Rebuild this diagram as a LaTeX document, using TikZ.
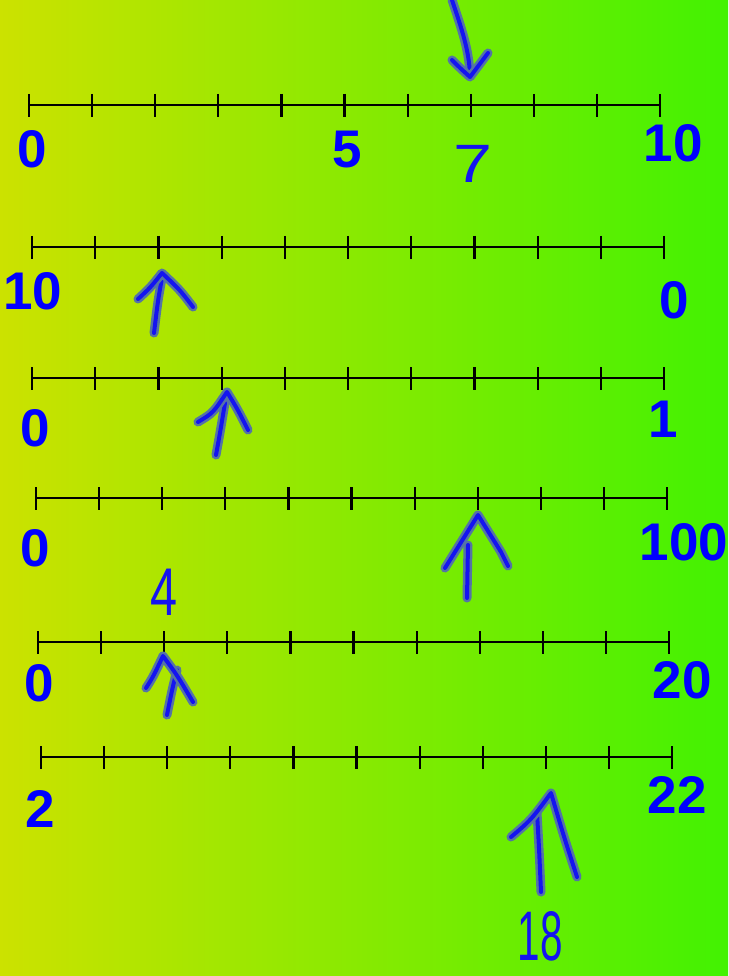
\documentclass[tikz,border=0pt]{standalone}
\usepackage{fontspec}
\setmainfont{Liberation Sans}
\usepackage{graphicx}
\definecolor{bgleft}{RGB}{204,226,0}
\definecolor{bgright}{RGB}{66,242,2}
\definecolor{labelblue}{RGB}{0,0,255}
\definecolor{penblue}{RGB}{20,20,240}
\definecolor{halo}{RGB}{85,115,165}
\begin{document}
\begin{tikzpicture}[x=1pt,y=-1pt,
  lbl/.style={text=labelblue, font=\bfseries\fontsize{53}{60}\selectfont, inner sep=0pt},
  hand/.style={text=penblue, font=\fontsize{54}{60}\selectfont, inner sep=0pt},
  axisline/.style={line width=2pt, black},
  tickmark/.style={line width=2.2pt, black},
  pen/.style={line width=4pt, draw=penblue, line cap=round, line join=round,
    preaction={draw=halo, line width=9pt, line cap=round, line join=round}}]
\shade[left color=bgleft, right color=bgright] (0,0) rectangle (728,976);
\useasboundingbox (0,0) rectangle (728,976);

% number lines
\foreach \xa/\xb/\yy in {29/660/105, 32/664/247, 32/664/378, 36/667/498, 38/669/642, 41/672/757}{
  \draw[axisline] (\xa,\yy) -- (\xb,\yy);
  \foreach \i in {0,...,10}
    \draw[tickmark] ({\xa+\i*(\xb-\xa)/10},{\yy-11}) -- ({\xa+\i*(\xb-\xa)/10},{\yy+12});
}

% labels
\node[lbl] (l1a) at (32,149) {0};
\node[lbl] (l1b) at (347,150) {5};
\node[lbl] (l1c) at (673,143) {10};
\node[lbl] (l2a) at (33,291) {10};
\node[lbl] (l2b) at (674,300) {0};
\node[lbl] (l3a) at (35,428) {0};
\node[lbl] (l3b) at (663,419) {1};
\node[lbl] (l4a) at (35,548) {0};
\node[lbl] (l4b) at (684,542) {100};
\node[lbl] (l5a) at (39,683) {0};
\node[lbl] (l5b) at (682,680) {20};
\node[lbl] (l6a) at (40,809) {2};
\node[lbl] (l6b) at (677,795) {22};

% handwritten numbers
\node[hand] (h7) at (473,164) {\scalebox{1.3}[1]{7}};
\node[hand] (h4) at (164,592) {\scalebox{0.9}[1.25]{4}};
\node[hand] (h18) at (540,936) {\scalebox{0.75}[1.3]{18}};

% hand-drawn arrows
\draw[pen] (452,0) .. controls (462,30) and (469,50) .. (470,75);
\draw[pen] (452,60) .. controls (460,68) .. (470,77) -- (488,53);

\draw[pen] (162,278) .. controls (158,300) .. (154,333);
\draw[pen] (138,299) .. controls (150,288) .. (162,273) .. controls (180,290) .. (193,307);

\draw[pen] (225,403) .. controls (220,433) .. (216,455);
\draw[pen] (198,422) .. controls (213,413) .. (227,392) .. controls (238,410) .. (248,430);

\draw[pen] (468,545) -- (467,598);
\draw[pen] (445,568) -- (478,515) -- (501,552) -- (508,566);

\draw[pen] (177,670) .. controls (172,690) .. (167,715);
\draw[pen] (146,688) .. controls (153,677) .. (163,656) .. controls (177,675) .. (193,702);

\draw[pen] (537,813) .. controls (539,847) .. (541,892);
\draw[pen] (511,837) .. controls (531,820) .. (551,793) .. controls (564,837) .. (577,877);
\end{tikzpicture}
\end{document}
